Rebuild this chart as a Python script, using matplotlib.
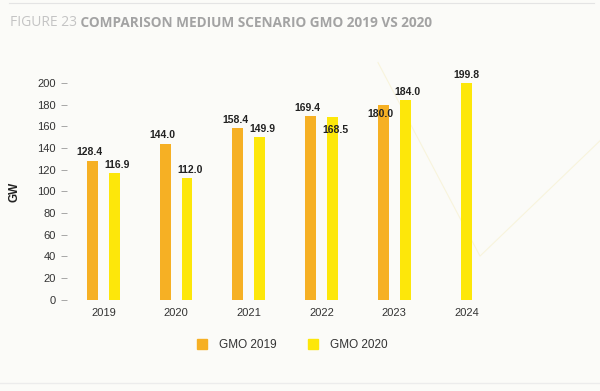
import numpy as np
import matplotlib.pyplot as plt
from matplotlib.patches import Patch

years = ["2019", "2020", "2021", "2022", "2023", "2024"]
gmo_2019 = [128.4, 144.0, 158.4, 169.4, 180.0, None]
gmo_2020 = [116.9, 112.0, 149.9, 168.5, 184.0, 199.8]
series_names = ["GMO 2019", "GMO 2020"]
y_ticks = [0, 20, 40, 60, 80, 100, 120, 140, 160, 180, 200]

c_2019 = "#F6B024"
c_2020 = "#FDE70A"
bg = "#fbfbf8"

plt.rcParams["font.family"] = ["Liberation Sans", "DejaVu Sans"]

fig = plt.figure(figsize=(6, 3.91), dpi=100, facecolor=bg)
ax = fig.add_axes([0.1117, 0.233, 0.727, 0.555], facecolor="none")

# faint decorative curve in the background
fig.add_artist(plt.Line2D([0.63, 0.80, 1.0], [0.84, 0.345, 0.64],
                          transform=fig.transFigure, color="#f8f4dc", lw=0.8, zorder=0))
# thin rules top and bottom
fig.add_artist(plt.Line2D([0.015, 0.99], [0.992, 0.992], transform=fig.transFigure,
                          color="#e4e4e4", lw=0.8))
fig.add_artist(plt.Line2D([0.0, 1.0], [0.02, 0.02], transform=fig.transFigure,
                          color="#ececec", lw=1.0))

x = np.arange(len(years))
w = 0.15
off = 0.15
# label shifts in points (two labels sit inside the bar top in the original)
dy_2019 = [6, 6, 6, 6, -7, 0]
dy_2020 = [6, 6, 6, -9, 6, 6]

for i in range(len(years)):
    a = gmo_2019[i]
    b = gmo_2020[i]
    if a is None:
        ax.bar(x[i], b, w, color=c_2020)
        ax.annotate(f"{b:.1f}", (x[i], b), xytext=(0, dy_2020[i]), textcoords="offset points",
                    ha="center", va="center", fontsize=7.5, fontweight="bold", color="#222222")
        continue
    ax.bar(x[i] - off, a, w, color=c_2019)
    ax.bar(x[i] + off, b, w, color=c_2020)
    ax.annotate(f"{a:.1f}", (x[i] - off, a), xytext=(-2, dy_2019[i]), textcoords="offset points",
                ha="center", va="center", fontsize=7.5, fontweight="bold", color="#222222")
    ax.annotate(f"{b:.1f}", (x[i] + off, b), xytext=(2, dy_2020[i]), textcoords="offset points",
                ha="center", va="center", fontsize=7.5, fontweight="bold", color="#222222")

ax.set_xlim(-0.5, 5.5)
ax.set_ylim(0, 200)
ax.set_yticks(y_ticks)
ax.set_xticks(x)
ax.set_xticklabels(years)
for s in ax.spines.values():
    s.set_visible(False)
ax.tick_params(axis="y", length=4, width=0.6, color="#999999", pad=4, labelsize=8, labelcolor="#333333")
ax.tick_params(axis="x", length=0, pad=6, labelsize=8, labelcolor="#333333")
ax.set_ylabel("GW", fontsize=8.5, fontweight="bold", color="#222222", labelpad=12)

leg = fig.legend(handles=[Patch(color=c_2019), Patch(color=c_2020)], labels=series_names,
                 loc="center", bbox_to_anchor=(0.487, 0.118), ncol=2, frameon=False,
                 handlelength=0.9, handleheight=0.9, handletextpad=1.0, columnspacing=2.6,
                 fontsize=8.5)
for t in leg.get_texts():
    t.set_color("#333333")

t1 = fig.text(0.017, 0.942, "FIGURE 23", fontsize=10, color="#c4c4c4",
              family=["Open Sans", "DejaVu Sans"], va="center")
ax.annotate(" COMPARISON MEDIUM SCENARIO GMO 2019 VS 2020", xy=(1, 0.5), xycoords=t1,
            va="center", ha="left", fontsize=9.8, fontweight="bold", color="#a3a3a3",
            family=["Open Sans", "DejaVu Sans"])

fig.savefig("out.png", dpi=100, facecolor=bg)
